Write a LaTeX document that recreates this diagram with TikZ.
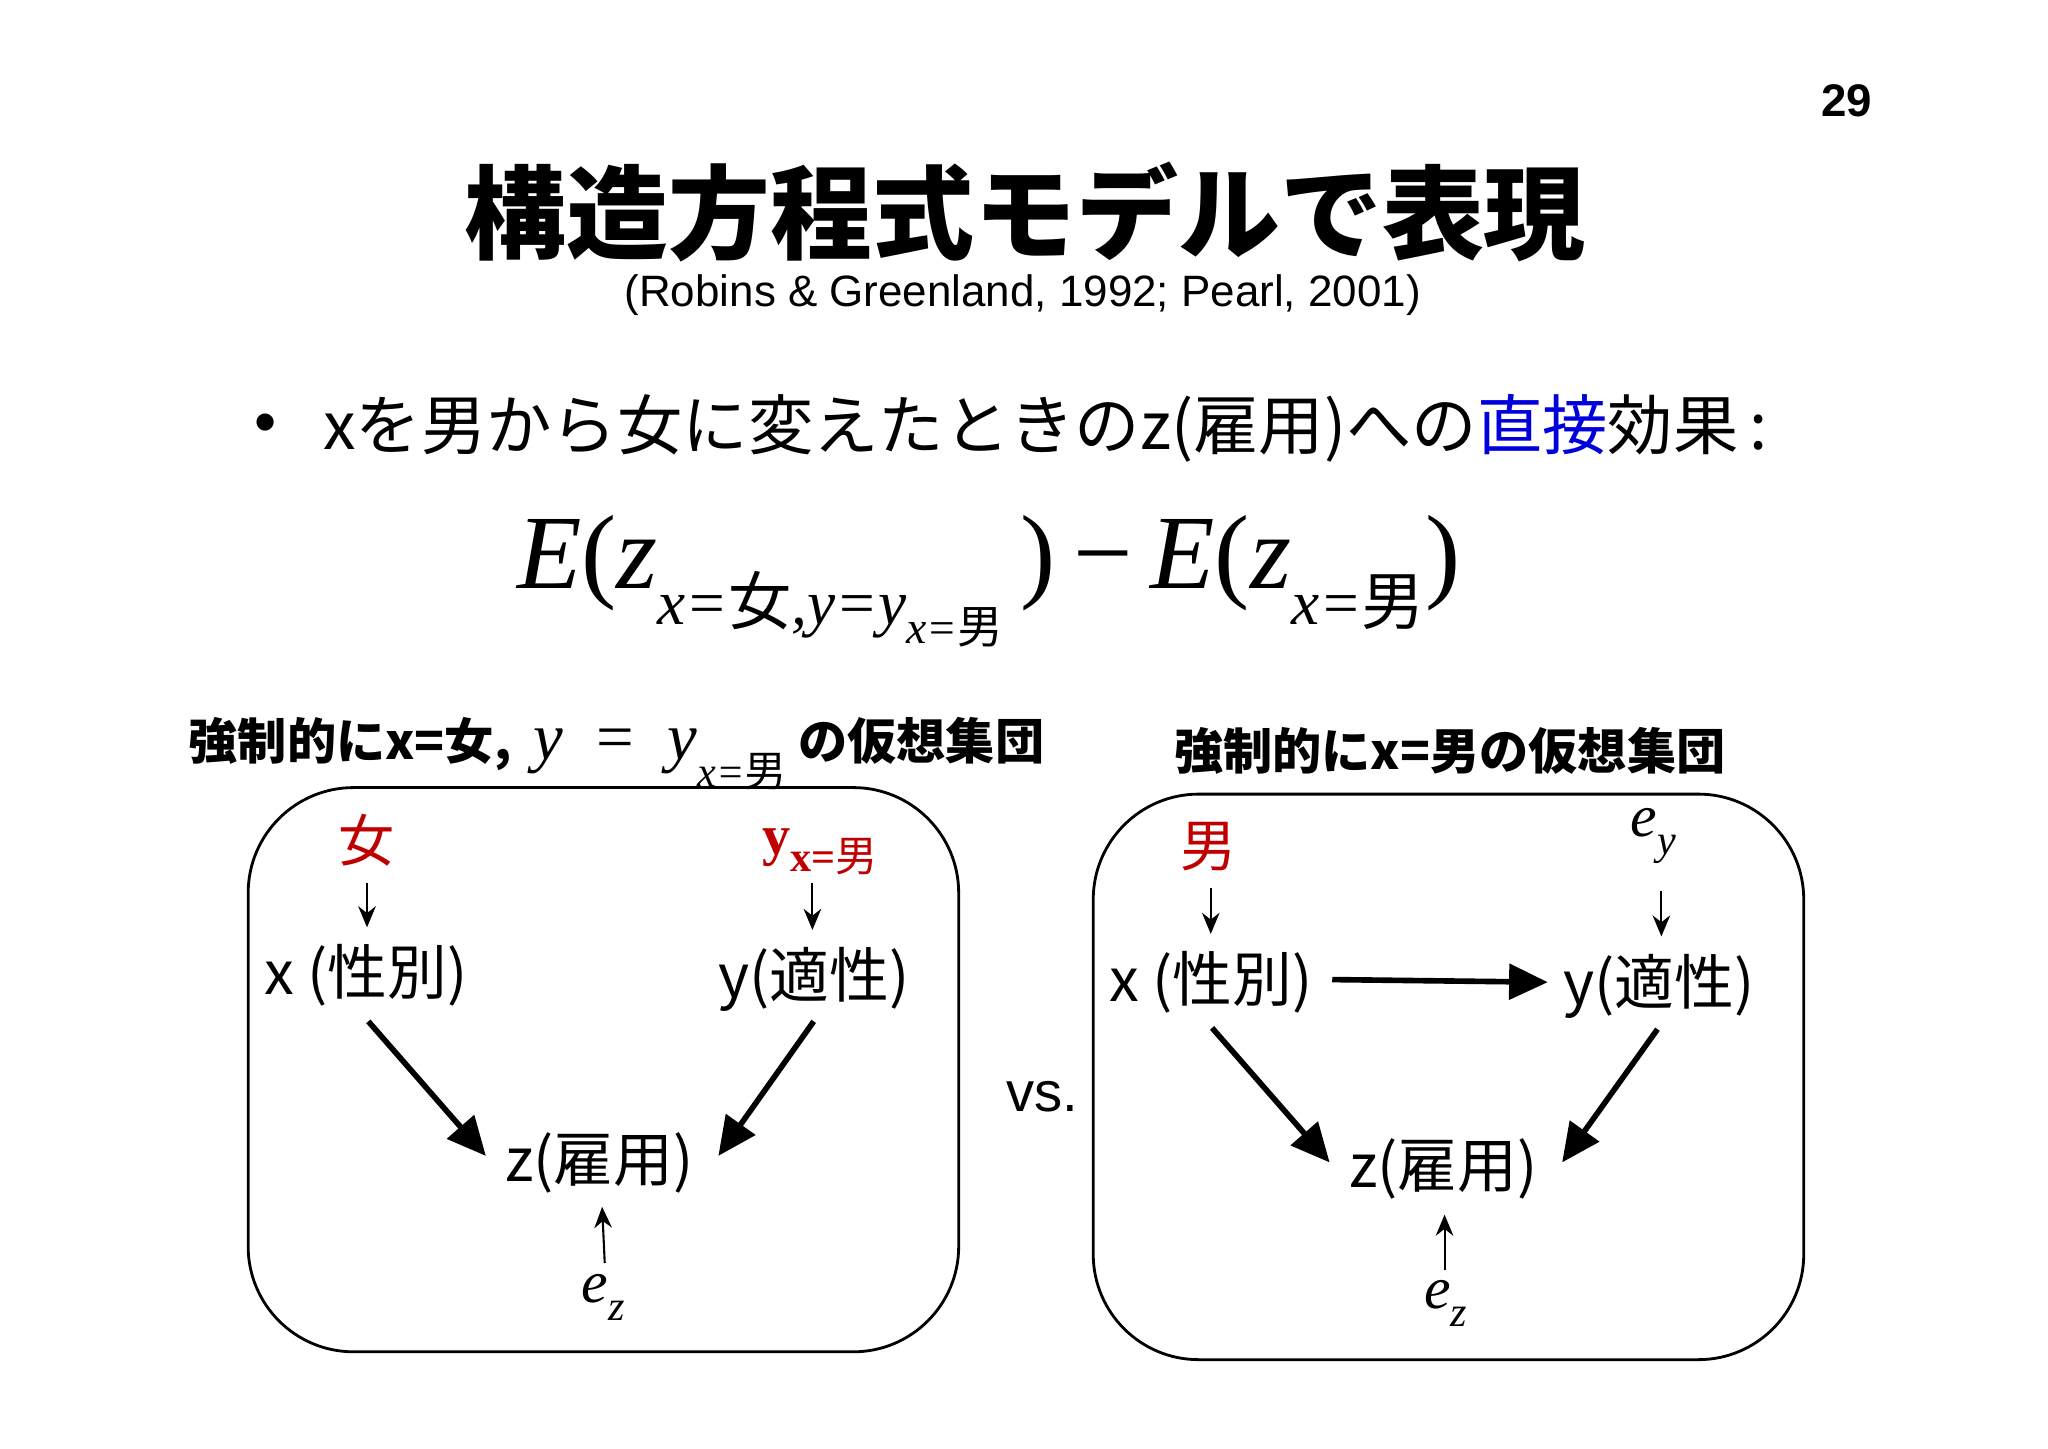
\documentclass[tikz,border=0pt]{standalone}
\usepackage{fontspec}
\setmainfont{Liberation Sans}
\newfontfamily\cjk{Noto Sans CJK JP}
\newfontfamily\tms{Liberation Serif}
\usetikzlibrary{arrows.meta}
\definecolor{myred}{RGB}{192,0,0}
\definecolor{myblue}{RGB}{0,0,220}
\begin{document}
\begin{tikzpicture}[x=0.01306cm,y=-0.01306cm,
  lab/.style={font=\fontsize{17}{20}\selectfont\cjk, inner sep=1pt},
  thick arr/.style={line width=1.6pt,-{Triangle[length=11pt,width=10pt]}},
  thin arr/.style={line width=0.6pt,-{Stealth[length=6pt,width=5pt]}},
  box/.style={draw,line width=0.8pt,rounded corners=30pt}]
\useasboundingbox[fill=white] (0,0) rectangle (1568,1108.7);
\node (pg) at (1414,77) {\fontsize{13}{15}\selectfont\bfseries 29};
\node (title) at (785,162) {\fontsize{29}{32}\selectfont\cjk\bfseries 構造方程式モデルで表現};
\node (cite) at (783,226) {\fontsize{12.5}{15}\selectfont (Robins \& Greenland, 1992; Pearl, 2001)};
\node (bul) at (203,328) {\fontsize{18}{20}\selectfont •};
\node[anchor=west] (btxt) at (238,328) {\fontsize{18.6}{20}\selectfont\cjk xを男から女に変えたときのz(雇用)への{\color{myblue}直接}効果\,:};
\node (eq) at (757,445) {\fontsize{30}{34}\selectfont\tms\itshape E{\upshape(}z\raisebox{-0.35em}{\fontsize{18}{20}\selectfont x={\upshape\cjk 女},y=y\raisebox{-0.3em}{\fontsize{13}{15}\selectfont x={\upshape\cjk 男}}}\,{\upshape)}\,{\upshape −}\,E{\upshape(}z\raisebox{-0.35em}{\fontsize{18}{20}\selectfont x={\upshape\cjk 男}}{\upshape)}};
\node (ll) at (472,577) {\fontsize{14}{15}\selectfont\cjk\bfseries 強制的にx=女,\ \ {\tms\mdseries\itshape\fontsize{19}{18}\selectfont y\ \ {\upshape =}\ \ y\raisebox{-0.4em}{\fontsize{12}{12}\selectfont x={\upshape\cjk 男}}}\ の仮想集団};
\node (rl) at (1110,575) {\fontsize{14}{15}\selectfont\cjk\bfseries 強制的にx=男の仮想集団};
\draw[box] (190,603) rectangle (734,1035);
\draw[box] (837,608) rectangle (1381,1041);
% left
\node[text=myred,font=\fontsize{16}{18}\selectfont\cjk] (lf) at (281,643) {女};
\node[text=myred,font=\fontsize{16}{18}\selectfont\tms\bfseries] (lyx) at (628,652) {y\raisebox{-0.3em}{\fontsize{12}{13}\selectfont x={\cjk\mdseries 男}}};
\node[lab] (lx) at (280,747) {x (性別)};
\node[lab] (ly) at (623,750) {y(適性)};
\node[lab] (lz) at (459,890) {z(雇用)};
\node[font=\fontsize{17}{18}\selectfont\tms\itshape] (lez) at (462,993) {e\raisebox{-0.3em}{\fontsize{12}{13}\selectfont z}};
\draw[thin arr] (281,676) -- (281,710);
\draw[thin arr] (622,676) -- (622,712);
\draw[thin arr] (463,967) -- (461,924);
\draw[thick arr] (282,782) -- (372,885);
\draw[thick arr] (623,782) -- (550,885);
\node (vs) at (798,840) {\fontsize{16}{18}\selectfont vs.};
% right
\node[text=myred,font=\fontsize{16}{18}\selectfont\cjk] (rm) at (925,648) {男};
\node[font=\fontsize{17}{18}\selectfont\tms\itshape] (rey) at (1266,640) {e\raisebox{-0.3em}{\fontsize{12}{13}\selectfont y}};
\node[lab] (rx) at (927,752) {x (性別)};
\node[lab] (ry) at (1270,755) {y(適性)};
\node[lab] (rz) at (1105,895) {z(雇用)};
\node[font=\fontsize{17}{18}\selectfont\tms\itshape] (rez) at (1107,998) {e\raisebox{-0.3em}{\fontsize{12}{13}\selectfont z}};
\draw[thin arr] (927,680) -- (927,715);
\draw[thin arr] (1272,682) -- (1272,717);
\draw[thin arr] (1106,972) -- (1106,930);
\draw[thick arr] (1020,750) -- (1185,752);
\draw[thick arr] (928,787) -- (1018,890);
\draw[thick arr] (1269,788) -- (1196,890);
\end{tikzpicture}
\end{document}
